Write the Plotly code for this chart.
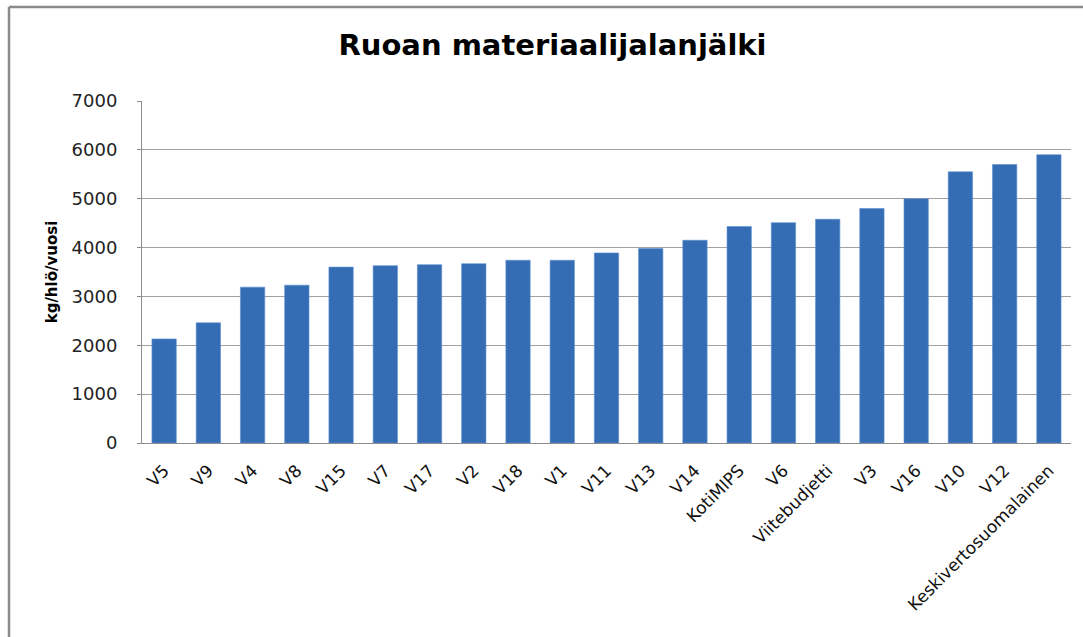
import plotly.graph_objects as go

categories = ["V5", "V9", "V4", "V8", "V15", "V7", "V17", "V2", "V18", "V1", "V11",
              "V13", "V14", "KotiMIPS", "V6", "Viitebudjetti", "V3", "V16", "V10",
              "V12", "Keskivertosuomalainen"]
values = [2130, 2460, 3190, 3230, 3600, 3630, 3650, 3670, 3740, 3740, 3890,
          3980, 4150, 4430, 4510, 4580, 4800, 5000, 5550, 5700, 5900]
y_ticks = [0, 1000, 2000, 3000, 4000, 5000, 6000, 7000]

FONT = "DejaVu Sans"

fig = go.Figure()
fig.add_trace(go.Bar(
    x=categories, y=values,
    marker=dict(color="#356db5", line=dict(color="#5b8fd0", width=0.6)),
    showlegend=False,
))

fig.update_layout(
    width=1083, height=637,
    margin=dict(l=142, r=12, t=101, b=194),
    paper_bgcolor="white", plot_bgcolor="white",
    bargap=0.45,
    font=dict(family=FONT, size=15, color="#222222"),
    title=dict(text="<b>Ruoan materiaalijalanjälki</b>", x=552.5 / 1083, xanchor="center",
               y=1 - 45 / 637, yanchor="middle",
               font=dict(family=FONT, size=29, color="black")),
    xaxis=dict(tickangle=-45, showgrid=False, showline=True, linecolor="#8c8c8c",
               linewidth=1, ticks="", ticklabelstandoff=10,
               tickfont=dict(family=FONT, size=17, color="#111111")),
    yaxis=dict(range=[0, 7000], tickvals=y_ticks, showgrid=True, gridcolor="#a0a0a0",
               gridwidth=1, showline=True, linecolor="#8c8c8c", linewidth=1,
               ticks="outside", ticklen=4, tickcolor="#8c8c8c",
               ticklabelstandoff=16,
               tickfont=dict(family=FONT, size=18, color="#222222"),
               zeroline=False,
               title=dict(text="<b>kg/hlö/vuosi</b>", standoff=10,
                          font=dict(family=FONT, size=15, color="black"))),
)

# outer chart frame (left and top edges visible)
fx = (9 - 142) / 929
fy = 1 + (101 - 7) / 342
fig.add_shape(type="line", xref="paper", yref="paper", x0=fx, x1=1.02, y0=fy, y1=fy,
              line=dict(color="#8a8a8a", width=2.5))
fig.add_shape(type="line", xref="paper", yref="paper", x0=fx, x1=fx, y0=-0.6, y1=fy,
              line=dict(color="#8a8a8a", width=2.5))

fig.write_html("out.html", config={"displayModeBar": False},
               post_script="document.body.style.margin='0';")
